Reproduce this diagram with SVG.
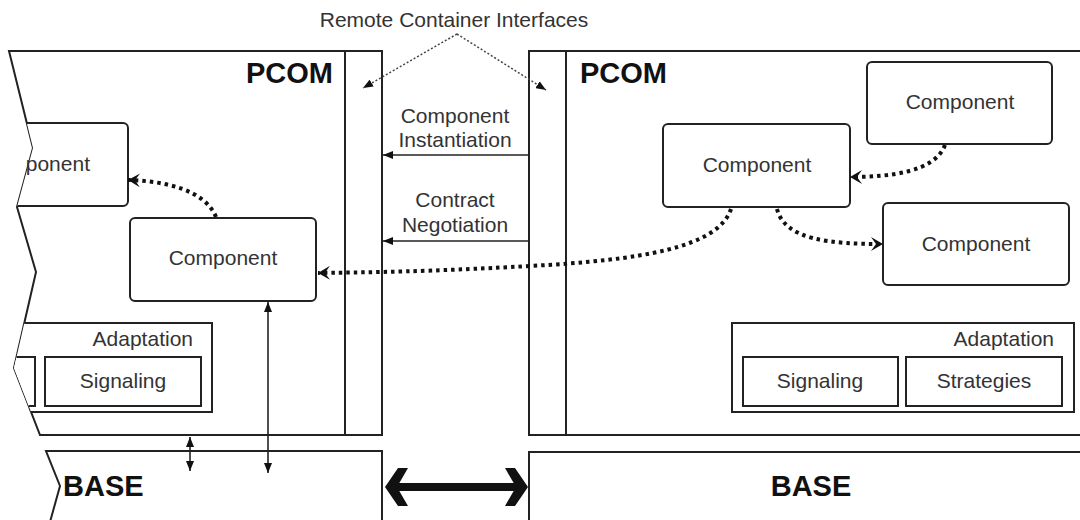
<svg xmlns="http://www.w3.org/2000/svg" width="1080" height="520" viewBox="0 0 1080 520">
<style>
  .frame{fill:none;stroke:#222;stroke-width:2}
  .box{fill:#fff;stroke:#222;stroke-width:2}
  .txt{font-family:"Liberation Sans",Arial,sans-serif;font-size:21px;fill:#333}
  .big{font-family:"Liberation Sans",Arial,sans-serif;font-size:29px;font-weight:bold;fill:#111}
  .thin{fill:none;stroke:#222;stroke-width:1.6}
  .dot{fill:none;stroke:#111;stroke-width:4;stroke-dasharray:3.5 4}
  .lbl{fill:none;stroke:#444;stroke-width:1.5;stroke-dasharray:2 2}
</style>
<defs>
  <clipPath id="leftClip">
    <polygon points="9,51 382,51 382,435 40,435 14,368 36,272 17,207 33,148"/>
  </clipPath>
  <marker id="tri" viewBox="0 0 10 8" refX="10" refY="4" markerWidth="10" markerHeight="8" orient="auto-start-reverse" markerUnits="userSpaceOnUse">
    <path d="M0,0 L10,4 L0,8 z" fill="#111"/>
  </marker>
  <marker id="triS" viewBox="0 0 10 8" refX="10" refY="4" markerWidth="10" markerHeight="8" orient="auto" markerUnits="userSpaceOnUse">
    <path d="M0,0 L10,4 L0,8 z" fill="#111"/>
  </marker>
  <marker id="chev" viewBox="0 0 12 14" refX="12" refY="7" markerWidth="12" markerHeight="14" orient="auto" markerUnits="userSpaceOnUse">
    <path d="M0,0 L12,7 L0,14 L5,7 z" fill="#111"/>
  </marker>
</defs>
<rect width="1080" height="520" fill="#fff"/>

<text class="txt" x="454" y="27" text-anchor="middle">Remote Container Interfaces</text>

<g id="pcom-left">
  <polygon class="frame" points="9,51 382,51 382,435 40,435 14,368 36,272 17,207 33,148"/>
  <line class="frame" x1="345" y1="51" x2="345" y2="435"/>
  <text class="big" x="333" y="83" text-anchor="end">PCOM</text>
</g>

<g id="left-content" clip-path="url(#leftClip)">
  <g id="comp-left-partial">
    <rect class="box" x="-80" y="123" width="208" height="83" rx="5"/>
  </g>
  <g id="adapt-left">
    <rect class="box" x="-150" y="323" width="362" height="89"/>
    <rect class="box" x="-120" y="357" width="155" height="49"/>
  </g>
</g>
<text class="txt" x="90" y="171" text-anchor="end">ponent</text>
<text class="txt" x="193" y="346" text-anchor="end">Adaptation</text>
<g id="signal-left">
  <rect class="box" x="45" y="357" width="156" height="49"/>
  <text class="txt" x="123" y="388" text-anchor="middle">Signaling</text>
</g>

<g id="comp-left">
  <rect class="box" x="130" y="218" width="186" height="83" rx="5"/>
  <text class="txt" x="223" y="265" text-anchor="middle">Component</text>
</g>

<g id="pcom-right">
  <path class="frame" d="M1082,51 L529,51 L529,435 L1082,435"/>
  <line class="frame" x1="566" y1="51" x2="566" y2="435"/>
  <text class="big" x="580" y="83">PCOM</text>
</g>

<g id="comp-right-mid">
  <rect class="box" x="663" y="124" width="187" height="83" rx="5"/>
  <text class="txt" x="757" y="172" text-anchor="middle">Component</text>
</g>
<g id="comp-right-top">
  <rect class="box" x="867" y="62" width="185" height="82" rx="5"/>
  <text class="txt" x="960" y="109" text-anchor="middle">Component</text>
</g>
<g id="comp-right-bot">
  <rect class="box" x="883" y="203" width="186" height="82" rx="5"/>
  <text class="txt" x="976" y="251" text-anchor="middle">Component</text>
</g>

<g id="adapt-right">
  <rect class="box" x="732" y="323" width="342" height="89"/>
  <text class="txt" x="1054" y="346" text-anchor="end">Adaptation</text>
  <g id="signal-right">
    <rect class="box" x="743" y="357" width="155" height="49"/>
    <text class="txt" x="820" y="388" text-anchor="middle">Signaling</text>
  </g>
  <g id="strat-right">
    <rect class="box" x="906" y="357" width="156" height="49"/>
    <text class="txt" x="984" y="388" text-anchor="middle">Strategies</text>
  </g>
</g>

<g id="base-left">
  <path class="frame" d="M50,522 L60,486 L46,451 L382,451 L382,522"/>
  <text class="big" x="63" y="496">BASE</text>
</g>
<g id="base-right">
  <path class="frame" d="M529,522 L529,452 L1082,452"/>
  <text class="big" x="811" y="496" text-anchor="middle">BASE</text>
</g>

<g id="labels">
  <text class="txt" x="455" y="123" text-anchor="middle">Component</text>
  <text class="txt" x="455" y="147" text-anchor="middle">Instantiation</text>
  <text class="txt" x="455" y="207" text-anchor="middle">Contract</text>
  <text class="txt" x="455" y="232" text-anchor="middle">Negotiation</text>
</g>

<g id="connectors">
  <path class="lbl" d="M457,34 L363,88" marker-end="url(#triS)"/>
  <path class="lbl" d="M457,34 L546,90" marker-end="url(#triS)"/>
  <path class="thin" d="M529,155 L383,155" marker-end="url(#tri)"/>
  <path class="thin" d="M529,241 L383,241" marker-end="url(#tri)"/>
  <path class="dot" d="M731,209 C718,248 640,260 530,266 S380,272 318,273" marker-end="url(#chev)"/>
  <path class="dot" d="M777,209 C785,240 830,244 883,244" marker-end="url(#chev)"/>
  <path class="dot" d="M945,145 C935,172 890,177 850,177" marker-end="url(#chev)"/>
  <path class="dot" d="M216,217 C205,190 165,181 128,180" marker-end="url(#chev)"/>
  <path class="thin" d="M190,437 L190,471" marker-start="url(#tri)" marker-end="url(#tri)"/>
  <path class="thin" d="M268,302 L268,473" marker-start="url(#tri)" marker-end="url(#tri)"/>
  <g id="base-link" fill="#111">
    <rect x="394" y="483" width="124" height="8"/>
    <path d="M385,487 L398,468 L408,468 L397,487 L408,506 L398,506 z"/>
    <path d="M528,487 L515,468 L505,468 L516,487 L505,506 L515,506 z"/>
  </g>
</g>
</svg>
